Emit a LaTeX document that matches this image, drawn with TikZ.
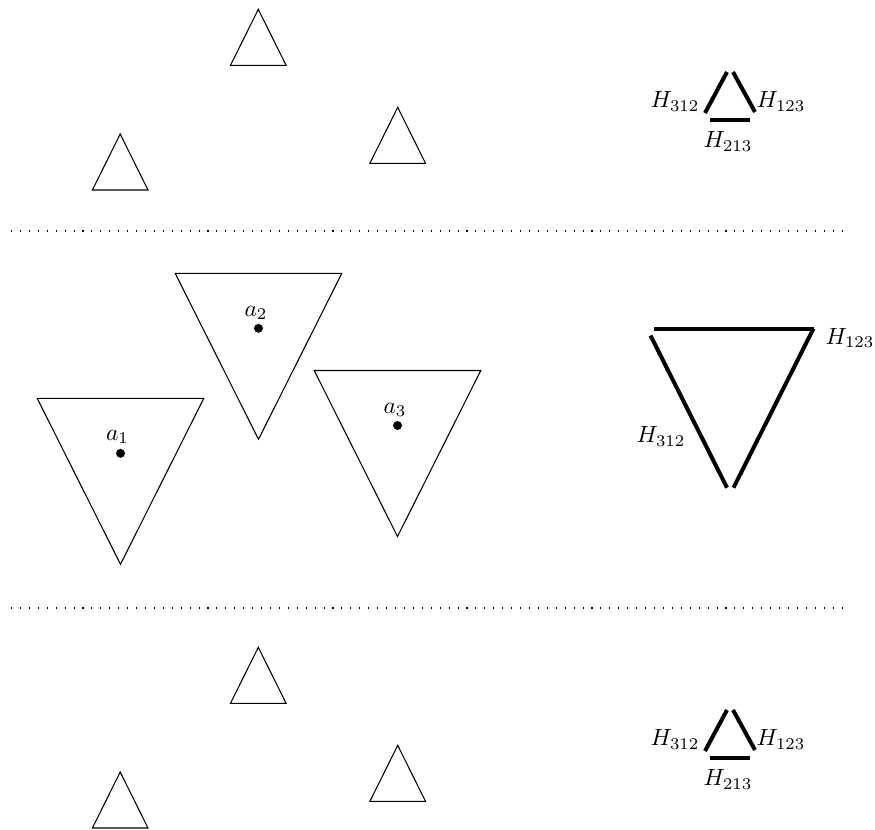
\documentclass[tikz,border=0pt]{standalone}
\begin{document}
\begin{tikzpicture}[x=0.4255pt,y=-0.4255pt,
  tri/.style={draw=black, line width=0.45pt, line join=miter},
  hseg/.style={draw=black, line width=1.7pt},
  sepline/.style={draw=black, dash pattern=on 0.45pt off 3.35pt, line width=0.45pt},
  lab/.style={inner sep=0pt},
  pt/.style={fill=black}]
\useasboundingbox (0,0) rectangle (875,829);

% small triangles (top and bottom sections)
\foreach \dy/\sec in {0/t, 638/b} {
  \begin{scope}[yshift=-\dy*0.4255pt]
    \foreach \ax/\ay in {258.3/9.3, 397.7/107.3, 120.2/134} {
      \draw[tri] (\ax,\ay) -- ++(-27.8,56) -- ++(55.6,0) -- cycle;
    }
    % H-segments small
    \coordinate (\sec l1) at (705,113); \coordinate (\sec l2) at (727,72);
    \coordinate (\sec r1) at (733,72);  \coordinate (\sec r2) at (755,112);
    \coordinate (\sec b1) at (710,120); \coordinate (\sec b2) at (750,120);
    \draw[hseg] (\sec l1) -- (\sec l2);
    \draw[hseg] (\sec r1) -- (\sec r2);
    \draw[hseg] (\sec b1) -- (\sec b2);
    \node[lab] (\sec H312) at (675,101.5) {$H_{312}$};
    \node[lab] (\sec H123) at (781,101.5) {$H_{123}$};
    \node[lab] (\sec H213) at (728,141.5) {$H_{213}$};
  \end{scope}
}

% separators
\coordinate (s1a) at (11,231); \coordinate (s1b) at (842,231);
\coordinate (s2a) at (11,608); \coordinate (s2b) at (842,608);
\draw[sepline] (s1a) -- (s1b);
\draw[sepline] (s2a) -- (s2b);

% big triangles with centroids
\foreach \cx/\cy/\n/\lx/\ly in {120.5/453.3/1/117.5/437, 258.5/328.3/2/256/313, 397.5/425.5/3/395/410} {
  \draw[tri] (\cx-83.3,\cy-55) -- (\cx+83.3,\cy-55) -- (\cx,\cy+111) -- cycle;
  \fill[pt] (\cx,\cy) circle (1.9pt);
  \node[lab] (a\n) at (\lx,\ly) {$a_{\n}$};
}

% big H triangle
\coordinate (Bt1) at (654,328.5); \coordinate (Bt2) at (813.5,328.5);
\coordinate (Br1) at (813.5,328.5); \coordinate (Br2) at (733.5,487.7);
\coordinate (Bl1) at (650.5,335.5); \coordinate (Bl2) at (727,487.7);
\draw[hseg] (Bt1) -- (Bt2);
\draw[hseg] (Br1) -- (Br2);
\draw[hseg] (Bl1) -- (Bl2);
\node[lab] (BH123) at (850,338) {$H_{123}$};
\node[lab] (BH312) at (661,436.5) {$H_{312}$};
\end{tikzpicture}
\end{document}
